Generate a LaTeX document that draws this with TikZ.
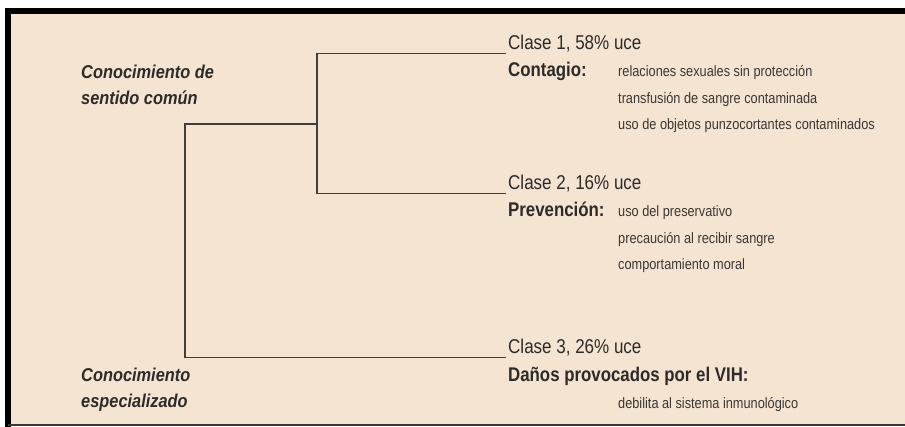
\documentclass[tikz,border=0pt]{standalone}
\usepackage{fontspec}
\setmainfont{Liberation Sans}
\newfontfamily\condfont[FakeStretch=0.85]{Liberation Sans}
\newfontfamily\condital[FakeStretch=0.88]{Liberation Sans}
\definecolor{paper}{RGB}{245,228,210}
\definecolor{ink}{RGB}{45,43,41}
\definecolor{inksoft}{RGB}{58,55,52}
\definecolor{treeline}{RGB}{65,61,58}
\tikzset{
  classlbl/.style={anchor=base west, inner sep=0pt, text=ink, font=\condfont\fontsize{20}{24}\selectfont},
  headlbl/.style={anchor=base west, inner sep=0pt, text=ink, font=\condfont\bfseries\fontsize{19.8}{24}\selectfont},
  itemlbl/.style={anchor=base west, inner sep=0pt, text=inksoft, font=\condfont\fontsize{15}{18}\selectfont},
  sidelbl/.style={anchor=base west, inner sep=0pt, text=ink, font=\condital\bfseries\itshape\fontsize{18.6}{22}\selectfont},
  branch/.style={draw=treeline, line width=1.9pt, line cap=rect},
}
\begin{document}
\begin{tikzpicture}[x=1pt,y=-1pt]
\useasboundingbox (0,0) rectangle (905,427);
% background and frame
\fill[white] (0,0) rectangle (905,427);
\fill[paper] (8,11.5) rectangle (905,425);
\draw[black, line width=6pt] (8,427) -- (8,11.5) -- (905,11.5);
\draw[inksoft, line width=2pt] (8,425.5) -- (905,425.5);

% left labels
\node[sidelbl] (s1a) at (81,78.3) {Conocimiento de};
\node[sidelbl] (s1b) at (81,105) {sentido común};
\node[sidelbl] (s2a) at (81,381.7) {Conocimiento};
\node[sidelbl] (s2b) at (81,407.3) {especializado};

% class 1
\node[classlbl] (c1) at (508,50) {Clase 1, 58\% uce};
\node[headlbl] (h1) at (508,76.7) {Contagio:};
\node[itemlbl] (i11) at (618,76.7) {relaciones sexuales sin protección};
\node[itemlbl] (i12) at (618,103.3) {transfusión de sangre contaminada};
\node[itemlbl] (i13) at (618,130) {uso de objetos punzocortantes contaminados};

% class 2
\node[classlbl] (c2) at (508,190) {Clase 2, 16\% uce};
\node[headlbl] (h2) at (508,216.7) {Prevención:};
\node[itemlbl] (i21) at (618,216.7) {uso del preservativo};
\node[itemlbl] (i22) at (618,243.3) {precaución al recibir sangre};
\node[itemlbl] (i23) at (618,270) {comportamiento moral};

% class 3
\node[classlbl] (c3) at (508,354) {Clase 3, 26\% uce};
\node[headlbl] (h3) at (508,381.7) {Daños provocados por el VIH:};
\node[itemlbl] (i31) at (618,408.3) {debilita al sistema inmunológico};

% dendrogram
\coordinate (e1) at (505,53.5);
\coordinate (e2) at (505,193.5);
\coordinate (e3) at (505,357.5);
\coordinate (j1) at (317,124);
\coordinate (j0) at (185,124);
\draw[branch] (e1) -| (j1) |- (e2);
\draw[branch] (j1) -- (j0) |- (e3);
\end{tikzpicture}
\end{document}
